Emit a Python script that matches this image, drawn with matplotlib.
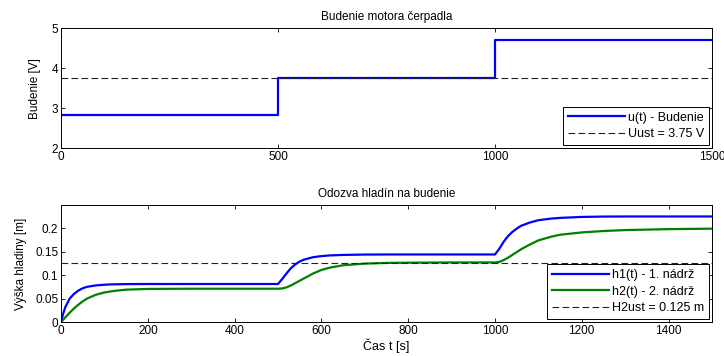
"""Budenie motora čerpadla a odozva hladín – prekreslenie grafu."""
import matplotlib
matplotlib.use("Agg")
import matplotlib.pyplot as plt

plt.rcParams["font.family"] = ["Liberation Sans", "DejaVu Sans"]
plt.rcParams["font.size"] = 8

# --- data odčítané z obrázka ---
U_T = [0, 500, 500, 1000, 1000, 1500]
U_V = [2.83, 2.83, 3.75, 3.75, 4.70, 4.70]
U_UST = 3.75

H_T = [0, 5, 10, 20, 30, 40, 50, 60, 80, 100, 120, 150, 200, 300, 400,
       500, 510, 520, 530, 540, 550, 560, 580, 600, 620, 650, 700, 750, 800, 900,
       1000, 1010, 1020, 1030, 1040, 1050, 1060, 1080, 1100, 1130, 1150, 1200,
       1250, 1300, 1400, 1500]
H1 = [0.0, 0.018, 0.032, 0.050, 0.060, 0.067, 0.072, 0.075, 0.078, 0.0795, 0.0803, 0.0808, 0.081, 0.081, 0.081,
      0.081, 0.092, 0.104, 0.115, 0.123, 0.129, 0.133, 0.138, 0.1405, 0.142, 0.143, 0.1438, 0.144, 0.144, 0.144,
      0.144, 0.156, 0.171, 0.183, 0.192, 0.199, 0.205, 0.212, 0.217, 0.2205, 0.222, 0.224,
      0.2248, 0.225, 0.225, 0.225]
H2 = [0.0, 0.005, 0.010, 0.020, 0.029, 0.037, 0.044, 0.050, 0.058, 0.063, 0.066, 0.069, 0.0705, 0.071, 0.071,
      0.071, 0.0715, 0.074, 0.078, 0.083, 0.088, 0.093, 0.103, 0.111, 0.116, 0.121, 0.1245, 0.126, 0.1265, 0.127,
      0.127, 0.128, 0.132, 0.137, 0.143, 0.149, 0.155, 0.165, 0.174, 0.182, 0.186, 0.191,
      0.194, 0.196, 0.198, 0.199]
H2_UST = 0.125


def matlab_axes(ax):
    ax.tick_params(direction="in", top=True, right=True, length=3, width=0.6, labelsize=8.5, pad=2)
    for s in ax.spines.values():
        s.set_linewidth(0.7)


def matlab_legend(ax):
    leg = ax.legend(loc="lower right", fancybox=False, framealpha=1, edgecolor="black",
                    handlelength=4.6, handletextpad=0.2, borderaxespad=0.25,
                    borderpad=0.4, labelspacing=0.35, fontsize=9)
    leg.get_frame().set_linewidth(0.7)


fig = plt.figure(figsize=(7.24, 3.56), dpi=100)
ax1 = fig.add_axes([0.0843, 0.584, 0.899, 0.337])
ax2 = fig.add_axes([0.0843, 0.0955, 0.899, 0.3287])

# horný graf
ax1.plot(U_T, U_V, color="#0000ff", lw=1.6, label="u(t) - Budenie")
ax1.axhline(U_UST, color="#222222", ls=(0, (6, 3)), lw=0.8, label="Uust = 3.75 V")
ax1.set_xlim(0, 1500)
ax1.set_ylim(2, 5)
ax1.set_xticks([0, 500, 1000, 1500])
ax1.set_yticks([2, 3, 4, 5])
ax1.set_ylabel("Budenie [V]", labelpad=8, fontsize=8.5)
ax1.set_title("Budenie motora čerpadla", fontsize=8.5, pad=6)
matlab_axes(ax1)
matlab_legend(ax1)

# dolný graf
ax2.plot(H_T, H1, color="#0000ff", lw=1.6, label="h1(t) - 1. nádrž")
ax2.plot(H_T, H2, color="#008000", lw=1.6, label="h2(t) - 2. nádrž")
ax2.axhline(H2_UST, color="#222222", ls=(0, (6, 3)), lw=0.8, label="H2ust = 0.125 m")
ax2.set_xlim(0, 1500)
ax2.set_ylim(0, 0.2495)
ax2.set_xticks(range(0, 1401, 200))
ax2.set_yticks([0, 0.05, 0.1, 0.15, 0.2])
ax2.set_yticklabels(["0", "0.05", "0.1", "0.15", "0.2"])
ax2.set_xlabel("Čas t [s]", labelpad=1, fontsize=9)
ax2.set_ylabel("Výška hladiny [m]", labelpad=6, fontsize=8.5)
ax2.set_title("Odozva hladín na budenie", fontsize=8.5, pad=6)
matlab_axes(ax2)
matlab_legend(ax2)

fig.savefig("out.png", dpi=100)
